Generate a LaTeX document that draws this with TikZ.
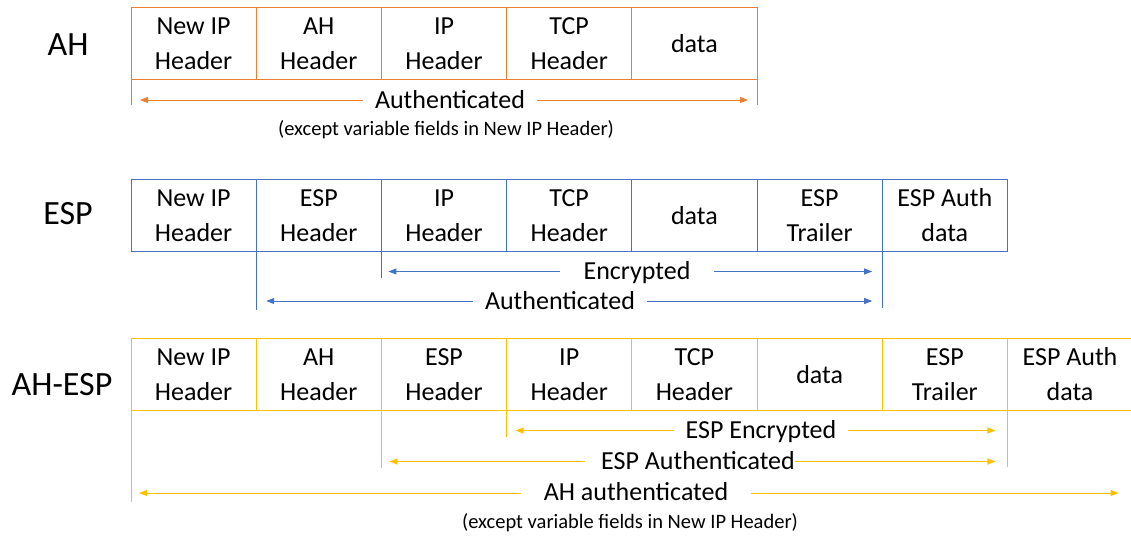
\documentclass[tikz,border=0pt]{standalone}
\usepackage{fontspec}
\setmainfont{Carlito}
\usetikzlibrary{arrows.meta}

\definecolor{ahline}{HTML}{ED7D31}
\definecolor{espline}{HTML}{4472C4}
\definecolor{bothline}{HTML}{FFC000}

\begin{document}
\begin{tikzpicture}[x=1pt,y=-1pt,
  cell/.style={draw=#1, line width=0.8pt, minimum width=125.2pt, minimum height=72pt,
    inner sep=0pt, outer sep=0pt, align=center, anchor=north west,
    font=\fontsize{26}{35}\selectfont},
  rowtitle/.style={font=\fontsize{34}{40}\selectfont},
  tick/.style={draw=#1, line width=0.8pt},
  span/.style={draw=#1, line width=0.9pt,
    {Triangle[length=8pt,width=6pt]}-{Triangle[length=8pt,width=6pt]}},
  spanlabel/.style={fill=white, anchor=base, inner ysep=2pt,
    font=\fontsize{26}{30}\selectfont},
  note/.style={font=\fontsize{20.5}{24}\selectfont}
]
\useasboundingbox (0,0) rectangle (1131,541);

% ---------------- AH ----------------
\node[rowtitle] (tAH) at (68,45) {AH};
\node[cell=ahline] (ah1) at (131,7.5) {New IP\\Header};
\node[cell=ahline] (ah2) at (ah1.north east) {AH\\Header};
\node[cell=ahline] (ah3) at (ah2.north east) {IP\\Header};
\node[cell=ahline] (ah4) at (ah3.north east) {TCP\\Header};
\node[cell=ahline] (ah5) at (ah4.north east) {data};

\path (ah1.south west) ++(0,25.5) coordinate (ahTL);
\path (ah5.south east) ++(0,25.5) coordinate (ahTR);
\draw[tick=ahline] (ah1.south west) -- (ahTL);
\draw[tick=ahline] (ah5.south east) -- (ahTR);

\path (ah1.south west) ++(9,20.5) coordinate (ahAL);
\path (ah5.south east) ++(-9,20.5) coordinate (ahAR);
\draw[span=ahline] (ahAL) -- (ahAR);
\node[spanlabel, inner xsep=12pt] (ahAuth) at (450,108) {Authenticated};
\node[note] (ahNote) at (446,130) {(except variable fields in New IP Header)};

% ---------------- ESP ----------------
\node[rowtitle] (tESP) at (68,214) {ESP};
\node[cell=espline] (es1) at (131,179.5) {New IP\\Header};
\node[cell=espline] (es2) at (es1.north east) {ESP\\Header};
\node[cell=espline] (es3) at (es2.north east) {IP\\Header};
\node[cell=espline] (es4) at (es3.north east) {TCP\\Header};
\node[cell=espline] (es5) at (es4.north east) {data};
\node[cell=espline] (es6) at (es5.north east) {ESP\\Trailer};
\node[cell=espline] (es7) at (es6.north east) {ESP Auth\\data};

\path (es2.south west) ++(0,58) coordinate (esTA);
\path (es3.south west) ++(0,26) coordinate (esTE);
\path (es6.south east) ++(0,56) coordinate (esTR);
\draw[tick=espline] (es2.south west) -- (esTA);
\draw[tick=espline] (es3.south west) -- (esTE);
\draw[tick=espline] (es6.south east) -- (esTR);

\path (es3.south west) ++(7,20) coordinate (esEL);
\path (es6.south east) ++(-10,20) coordinate (esER);
\draw[span=espline] (esEL) -- (esER);
\node[spanlabel, inner xsep=24pt] (esEnc) at (637,279.5) {Encrypted};

\path (es2.south west) ++(10,49.5) coordinate (esAL);
\path (es6.south east) ++(-10,49.5) coordinate (esAR);
\draw[span=espline] (esAL) -- (esAR);
\node[spanlabel, inner xsep=12pt] (esAuth) at (560,309) {Authenticated};

% ---------------- AH-ESP ----------------
\node[rowtitle] (tBoth) at (62,385) {AH-ESP};
\node[cell=bothline] (be1) at (131,338.5) {New IP\\Header};
\node[cell=bothline] (be2) at (be1.north east) {AH\\Header};
\node[cell=bothline] (be3) at (be2.north east) {ESP\\Header};
\node[cell=bothline] (be4) at (be3.north east) {IP\\Header};
\node[cell=bothline] (be5) at (be4.north east) {TCP\\Header};
\node[cell=bothline] (be6) at (be5.north east) {data};
\node[cell=bothline] (be7) at (be6.north east) {ESP\\Trailer};
\node[cell=bothline] (be8) at (be7.north east) {ESP Auth\\data};

\path (be1.south west) ++(0,91.5) coordinate (beTH);
\path (be3.south west) ++(0,57.5) coordinate (beTA);
\path (be4.south west) ++(0,26.5) coordinate (beTE);
\path (be7.south east) ++(0,56.5) coordinate (beTR);
\draw[tick=bothline] (be1.south west) -- (beTH);
\draw[tick=bothline] (be3.south west) -- (beTA);
\draw[tick=bothline] (be4.south west) -- (beTE);
\draw[tick=bothline] (be7.south east) -- (beTR);

\path (be4.south west) ++(9,20) coordinate (beEL);
\path (be7.south east) ++(-12,20) coordinate (beER);
\draw[span=bothline] (beEL) -- (beER);
\node[spanlabel, inner xsep=12pt] (beEnc) at (761,438.5) {ESP Encrypted};

\path (be3.south west) ++(8,51) coordinate (beAL);
\path (be7.south east) ++(-12,51) coordinate (beAR);
\draw[span=bothline] (beAL) -- (beAR);
% the label leaves a gap on its left only; the line runs on right after it
\node[spanlabel, inner xsep=0pt] (beAuth) at (690,469.5) {\hspace{16pt}ESP Authenticated};

\path (be1.south west) ++(8,82.5) coordinate (beHL);
\path (be8.south east) ++(-14,82.5) coordinate (beHR);
\draw[span=bothline] (beHL) -- (beHR);
\node[spanlabel, inner xsep=23pt] (beAH) at (636,500.5) {AH authenticated};
\node[note] (beNote) at (630,523) {(except variable fields in New IP Header)};

\end{tikzpicture}
\end{document}
